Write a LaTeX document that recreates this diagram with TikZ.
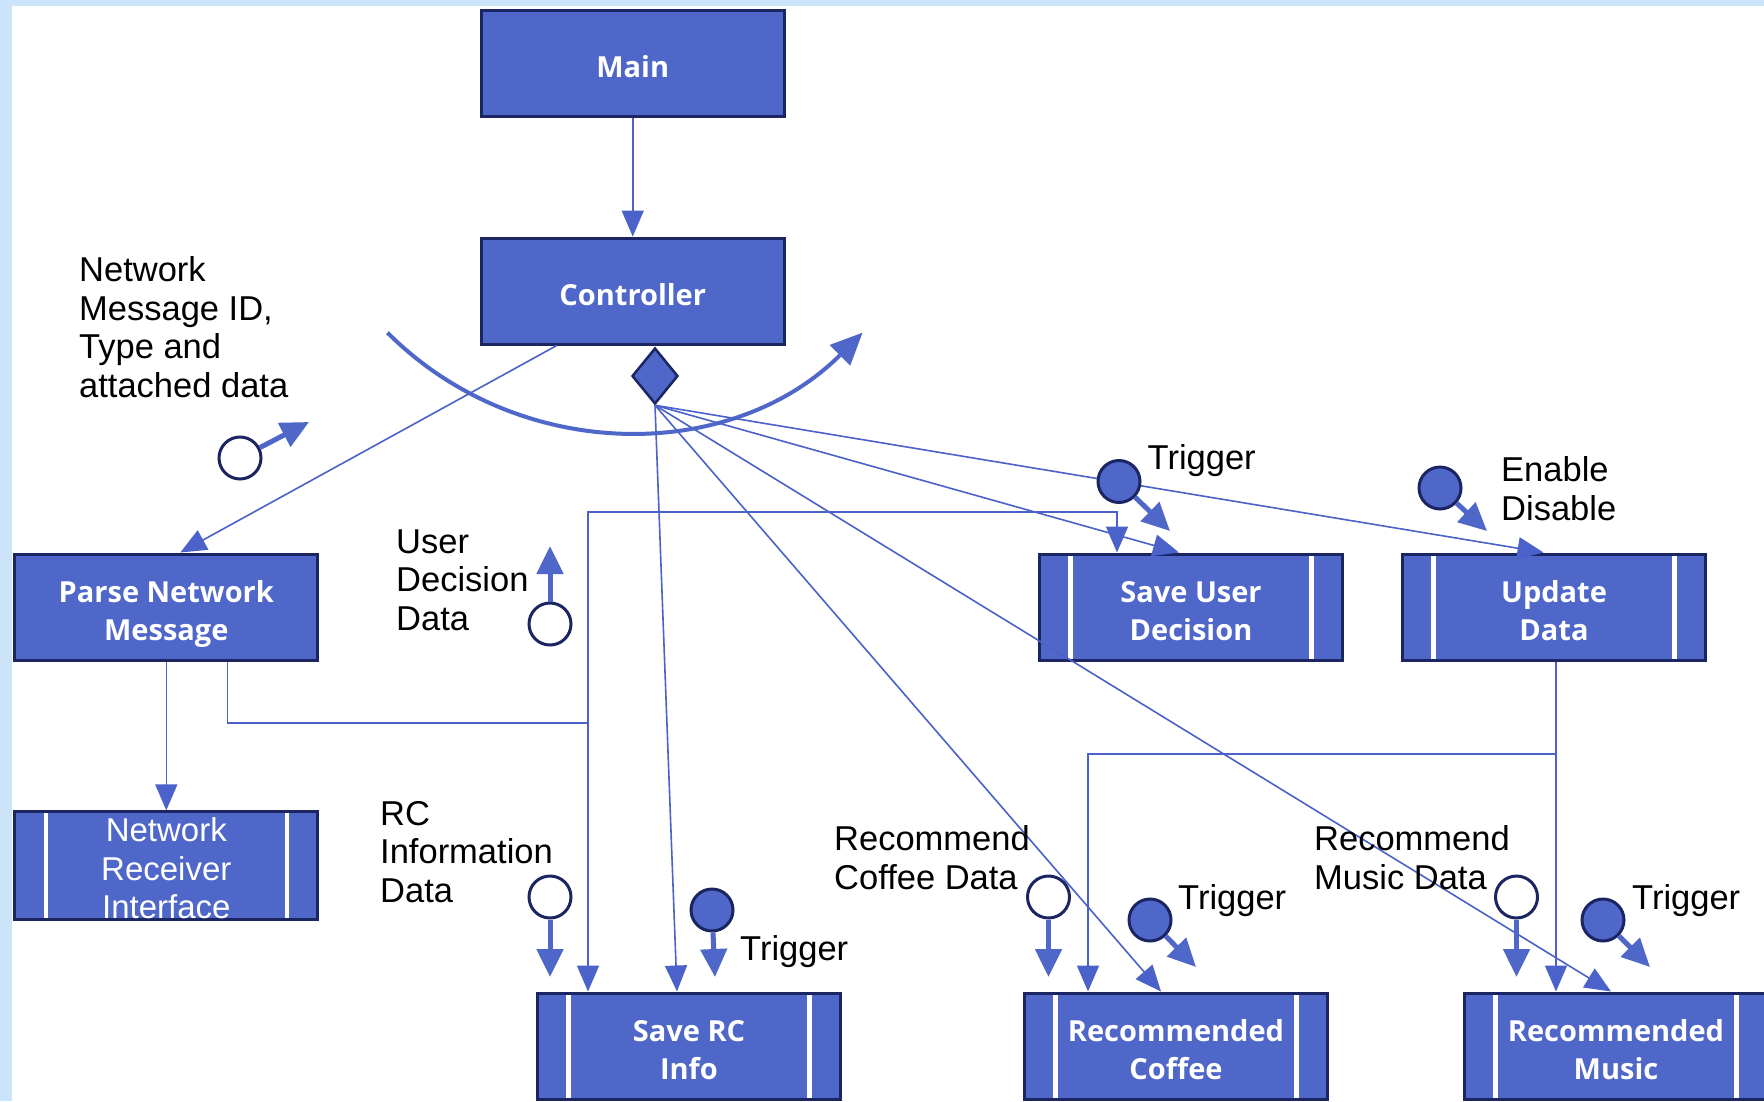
\documentclass[tikz,border=0pt]{standalone}
\usepackage{fontspec}
\setmainfont{Liberation Sans}
\newfontfamily\procfont{Open Sans}
\usetikzlibrary{arrows.meta,shapes.geometric}

\definecolor{procfill}{RGB}{79,103,201}
\definecolor{procedge}{RGB}{27,37,98}
\definecolor{flowblue}{RGB}{74,98,201}
\definecolor{frameblue}{RGB}{203,228,250}

% invisible strut that lowers the first line of a box label
\newcommand\firstline[1]{\rule{0pt}{#1}}

\tikzset{
  proc/.style={draw=procedge, line width=3pt, fill=procfill,
    minimum width=303pt, minimum height=106pt, inner sep=0pt,
    text=white, align=center, font=\procfont\bfseries\fontsize{29}{38}\selectfont},
  module/.style={proc, path picture={
      \draw[white, line width=4.5pt]
        ([xshift=31pt]path picture bounding box.north west) -- ([xshift=31pt]path picture bounding box.south west)
        ([xshift=-31pt]path picture bounding box.north east) -- ([xshift=-31pt]path picture bounding box.south east);}},
  link/.style={draw=flowblue, line width=1.6pt, -{Triangle[length=26pt,width=22pt]}},
  plainlink/.style={draw=flowblue, line width=1.6pt},
  datacpl/.style={circle, draw=procedge, line width=3pt, fill=white, minimum size=42pt, inner sep=0pt},
  flagcpl/.style={datacpl, fill=procfill},
  cplarrow/.style={draw=procfill, line width=5pt, -{Triangle[length=28pt,width=26pt]}},
  note/.style={anchor=west, align=left, inner sep=0pt, font=\fontsize{34.5}{38.5}\selectfont},
  loopmark/.style={draw=procfill, line width=4pt, -{Triangle[length=32pt,width=28pt]}},
}

\begin{document}
\begin{tikzpicture}[x=1pt,y=-1pt]
\useasboundingbox (0,0) rectangle (1764,1101);
\fill[white] (0,0) rectangle (1764,1101);
\fill[frameblue] (0,0) rectangle (1764,6);
\fill[frameblue] (0,0) rectangle (12,1101);

% processes and modules
\node[proc] (main) at (632.75,63) {\firstline{29pt}Main};
\node[proc] (ctrl) at (632.75,291) {\firstline{29pt}Controller};
\node[diamond, draw=procedge, line width=2.5pt, fill=procfill, aspect=0.82,
      minimum width=46pt, minimum height=56pt, inner sep=0pt] (dia) at (655,376) {};
\node[proc] (parse) at (166.3,607) {\firstline{36pt}Parse Network\\Message};
\node[module, font=\fontsize{33}{38.5}\selectfont] (nri) at (166.3,865.5) {\firstline{30pt}Network\\Receiver\\Interface};
\node[module] (saverc) at (689,1046) {\firstline{29pt}Save RC\\Info};
\node[module] (saveuser) at (1191,607) {\firstline{30pt}Save User\\Decision};
\node[module] (update) at (1554,607) {\firstline{30pt}Update\\Data};
\node[module] (coffee) at (1176,1046) {\firstline{29pt}Recommended\\Coffee};
\node[module] (music) at (1616,1046) {\firstline{29pt}Recommended\\Music};

% iteration mark under the controller
\draw[loopmark] (387.4,332.6) arc[start angle=225, end angle=315, radius=336pt];

% calls
\draw[link] (main) -- (ctrl);
\draw[link] ([xshift=-76pt]ctrl.south) -- ([xshift=14pt]parse.north);
\draw[link] (parse) -- (nri);

\coordinate (j1) at (588,723);
\coordinate (j1top) at (588,512);
\draw[plainlink] ([xshift=61pt]parse.south) |- (j1);
\draw[link] (j1) -- (j1 |- saverc.north);
\draw[link] (j1) -- (j1top) -| ([xshift=-74pt]saveuser.north);

\draw[link] (dia.south) -- ([xshift=-12pt]saverc.north);
\draw[link] (dia.south) -- ([xshift=-12pt]saveuser.north);
\draw[link] (dia.south) -- ([xshift=-10.5pt]update.north);
\draw[link] (dia.south) -- ([xshift=-15pt]coffee.north);
\draw[link] (dia.south) -- ([xshift=-5pt]music.north);

\coordinate (j2) at (1556,754);
\draw[plainlink] ([xshift=2pt]update.south) -- (j2);
\draw[link] (j2) -- (j2 |- music.north);
\draw[link] (j2) -| ([xshift=-88pt]coffee.north);

% data and control couples
\node[datacpl] (netcpl) at (240,458) {};
\coordinate (netcplTip) at (309,422);
\draw[cplarrow] (netcpl) -- (netcplTip);

\node[datacpl] (udcpl) at (550,624) {};
\coordinate (udcplTip) at (550,546);
\draw[cplarrow] (udcpl) -- (udcplTip);

\node[datacpl] (rccpl) at (550,897) {};
\coordinate (rccplTip) at (550,977);
\draw[cplarrow] (rccpl) -- (rccplTip);

\node[flagcpl] (trgrc) at (712,910) {};
\coordinate (trgrcTip) at (715,977);
\draw[cplarrow] (trgrc) -- (trgrcTip);

\node[flagcpl] (trgud) at (1119,481.5) {};
\coordinate (trgudTip) at (1170,531);
\draw[cplarrow] (trgud) -- (trgudTip);

\node[flagcpl] (encpl) at (1440,488) {};
\coordinate (encplTip) at (1487,531);
\draw[cplarrow] (encpl) -- (encplTip);

\node[datacpl] (cofcpl) at (1048.5,897) {};
\coordinate (cofcplTip) at (1048.5,977);
\draw[cplarrow] (cofcpl) -- (cofcplTip);

\node[flagcpl] (trgcof) at (1150,920) {};
\coordinate (trgcofTip) at (1196,967);
\draw[cplarrow] (trgcof) -- (trgcofTip);

\node[datacpl] (muscpl) at (1516.5,897) {};
\coordinate (muscplTip) at (1516.5,977);
\draw[cplarrow] (muscpl) -- (muscplTip);

\node[flagcpl] (trgmus) at (1603,920) {};
\coordinate (trgmusTip) at (1650,967);
\draw[cplarrow] (trgmus) -- (trgmusTip);

% couple labels
\node[note] (netlbl) at (79,327) {Network\\Message ID,\\Type and\\attached data};
\node[note] (udlbl) at (396,580) {User\\Decision\\Data};
\node[note] (rclbl) at (380,852) {RC\\Information\\Data};
\node[note] (coflbl) at (834,857.5) {Recommend\\Coffee Data};
\node[note] (muslbl) at (1314,857.5) {Recommend\\Music Data};
\node[note] (enlbl) at (1501,488.5) {Enable\\Disable};
\node[note] (trgudlbl) at (1147.5,461) {Trigger};
\node[note] (trgrclbl) at (740,952) {Trigger};
\node[note] (trgcoflbl) at (1178,901) {Trigger};
\node[note] (trgmuslbl) at (1632,901) {Trigger};
\end{tikzpicture}
\end{document}
